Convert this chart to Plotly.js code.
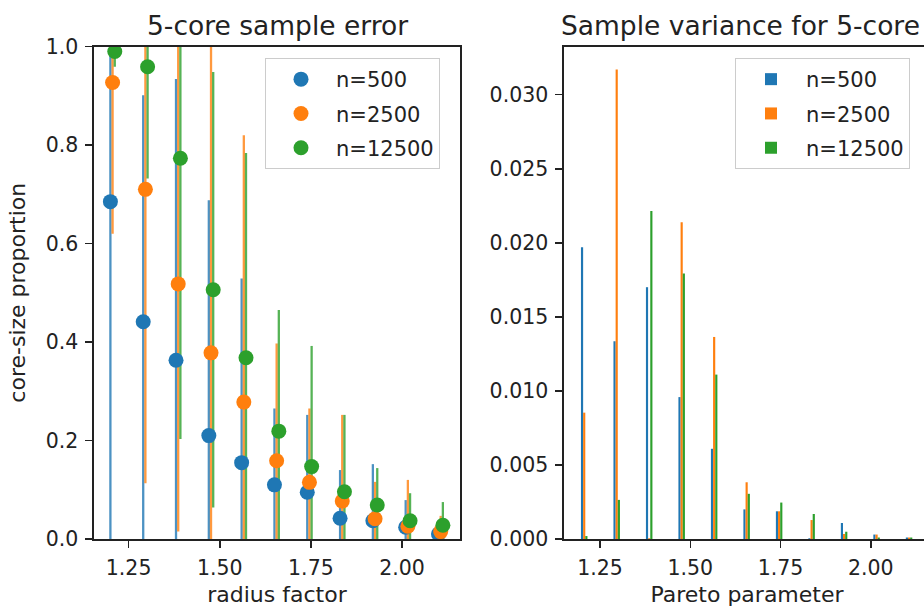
<!DOCTYPE html>
<html><head><meta charset="utf-8">
<script src="https://cdn.plot.ly/plotly-3.0.1.min.js"></script>
<style>html,body{margin:0;padding:0;overflow:hidden;background:#fff}#chart{width:940px;height:608px}</style>
</head><body><div id="chart"></div><script>
// ---- data ----
const radiusFactor = [1.2, 1.29, 1.38, 1.47, 1.56, 1.65, 1.74, 1.83, 1.92, 2.01, 2.10];
const seriesNames = ['n=500', 'n=2500', 'n=12500'];
const mean500   = [0.685, 0.441, 0.363, 0.210, 0.155, 0.110, 0.095, 0.042, 0.037, 0.024, 0.010];
const err500    = [0.700, 0.460, 0.571, 0.478, 0.374, 0.155, 0.157, 0.098, 0.115, 0.055, 0.020];
const mean2500  = [0.927, 0.710, 0.518, 0.378, 0.278, 0.159, 0.115, 0.077, 0.041, 0.026, 0.015];
const err2500   = [0.307, 0.597, 0.503, 0.650, 0.542, 0.238, 0.150, 0.175, 0.075, 0.094, 0.032];
const mean12500 = [0.990, 0.959, 0.773, 0.506, 0.368, 0.219, 0.147, 0.096, 0.069, 0.037, 0.028];
const err12500  = [0.031, 0.227, 0.570, 0.442, 0.416, 0.246, 0.245, 0.156, 0.075, 0.056, 0.047];
const var500    = [0.0197, 0.01335, 0.0170, 0.00958, 0.00609, 0.0020, 0.00187, 0.00005, 0.00108, 0.0003, 0.0001];
const var2500   = [0.00853, 0.0317, 0.00005, 0.02138, 0.01364, 0.00383, 0.00187, 0.00128, 0.00034, 0.0003, 0.0001];
const var12500  = [0.0002, 0.00264, 0.02215, 0.01793, 0.0111, 0.00305, 0.00246, 0.00169, 0.00049, 0.0001, 0.0001];
const xTicks = [1.25, 1.5, 1.75, 2.0];

// ---- styling ----
const means = [mean500, mean2500, mean12500];
const errs = [err500, err2500, err12500];
const vars = [var500, var2500, var12500];
const colors = ['#1f77b4', '#ff7f0e', '#2ca02c'];
const errColors = ['rgba(31,119,180,0.8)', 'rgba(255,127,14,0.8)', 'rgba(44,160,44,0.8)'];
const offsets = [0, 0.006, 0.012];
const FONT = 'DejaVu Sans, sans-serif';
const W = 940, H = 608;
const ink = '#222';

const traces = [];
for (let i = 0; i < 3; i++) {
  traces.push({
    type: 'scatter', mode: 'markers', xaxis: 'x', yaxis: 'y',
    x: radiusFactor.map(v => v + offsets[i]), y: means[i],
    error_y: {type: 'data', array: errs[i], visible: true, color: errColors[i], thickness: 2.3, width: 0},
    marker: {size: 2, opacity: 0}, showlegend: false, hoverinfo: 'skip'
  });
}
for (let i = 0; i < 3; i++) {
  traces.push({
    type: 'scatter', mode: 'markers', xaxis: 'x', yaxis: 'y', name: seriesNames[i],
    x: radiusFactor.map(v => v + offsets[i]), y: means[i],
    marker: {size: 15, color: colors[i]}, legend: 'legend', legendgroup: 'g' + i
  });
}
for (let i = 0; i < 3; i++) {
  traces.push({
    type: 'bar', xaxis: 'x2', yaxis: 'y2', name: seriesNames[i],
    x: radiusFactor.map(v => v + offsets[i]), y: vars[i], width: 0.006,
    marker: {color: colors[i], line: {width: 0}}, legend: 'legend2', legendgroup: 'h' + i
  });
}

const axBase = {
  ticks: 'outside', ticklen: 7, tickwidth: 1.6, tickcolor: ink,
  showline: true, linecolor: ink, linewidth: 1.6, mirror: true,
  showgrid: false, zeroline: false,
  tickfont: {family: FONT, size: 20.5, color: ink}, ticklabelstandoff: 3
};
const yDom = [(H - 539) / H, (H - 46.5) / H];
const legBase = {
  bgcolor: 'rgba(255,255,255,0.8)', bordercolor: '#cccccc', borderwidth: 1,
  font: {family: FONT, size: 21, color: ink}, xanchor: 'left', yanchor: 'top',
  itemwidth: 60, tracegroupgap: 4, traceorder: 'grouped'
};

const layout = {
  width: W, height: H, margin: {l: 0, r: 0, t: 0, b: 0},
  paper_bgcolor: '#fff', plot_bgcolor: '#fff', barmode: 'overlay',
  showlegend: true,
  font: {family: FONT, color: ink},
  xaxis: Object.assign({}, axBase, {
    domain: [94 / W, 460 / W], range: [1.155, 2.159], anchor: 'y',
    tickvals: xTicks, tickformat: '.2f',
    title: {text: 'radius factor', font: {family: FONT, size: 22, color: ink}, standoff: 7}
  }),
  yaxis: Object.assign({}, axBase, {
    domain: yDom, range: [0, 1], anchor: 'x', dtick: 0.2, tickformat: '.1f',
    title: {text: 'core-size proportion', font: {family: FONT, size: 22, color: ink}, standoff: 14}
  }),
  xaxis2: Object.assign({}, axBase, {
    domain: [564 / W, 930 / W], range: [1.150, 2.164], anchor: 'y2',
    tickvals: xTicks, tickformat: '.2f',
    title: {text: 'Pareto parameter', font: {family: FONT, size: 22, color: ink}, standoff: 7}
  }),
  yaxis2: Object.assign({}, axBase, {
    domain: yDom, range: [0, 0.03325], anchor: 'x2', dtick: 0.005, tickformat: '.3f'
  }),
  legend: Object.assign({}, legBase, {x: 265 / W, y: 1 - 58 / H}),
  legend2: Object.assign({}, legBase, {x: 735 / W, y: 1 - 58 / H}),
  annotations: [
    {text: '5-core sample error', xref: 'paper', yref: 'paper', x: 277 / W, y: 1 - 25 / H,
     xanchor: 'center', yanchor: 'middle', showarrow: false, font: {family: FONT, size: 26.5, color: ink}},
    {text: 'Sample variance for 5-core', xref: 'paper', yref: 'paper', x: 740.5 / W, y: 1 - 25 / H,
     xanchor: 'center', yanchor: 'middle', showarrow: false, font: {family: FONT, size: 26.5, color: ink}}
  ]
};

Plotly.newPlot('chart', traces, layout, {staticPlot: true, displayModeBar: false});
</script></body></html>
